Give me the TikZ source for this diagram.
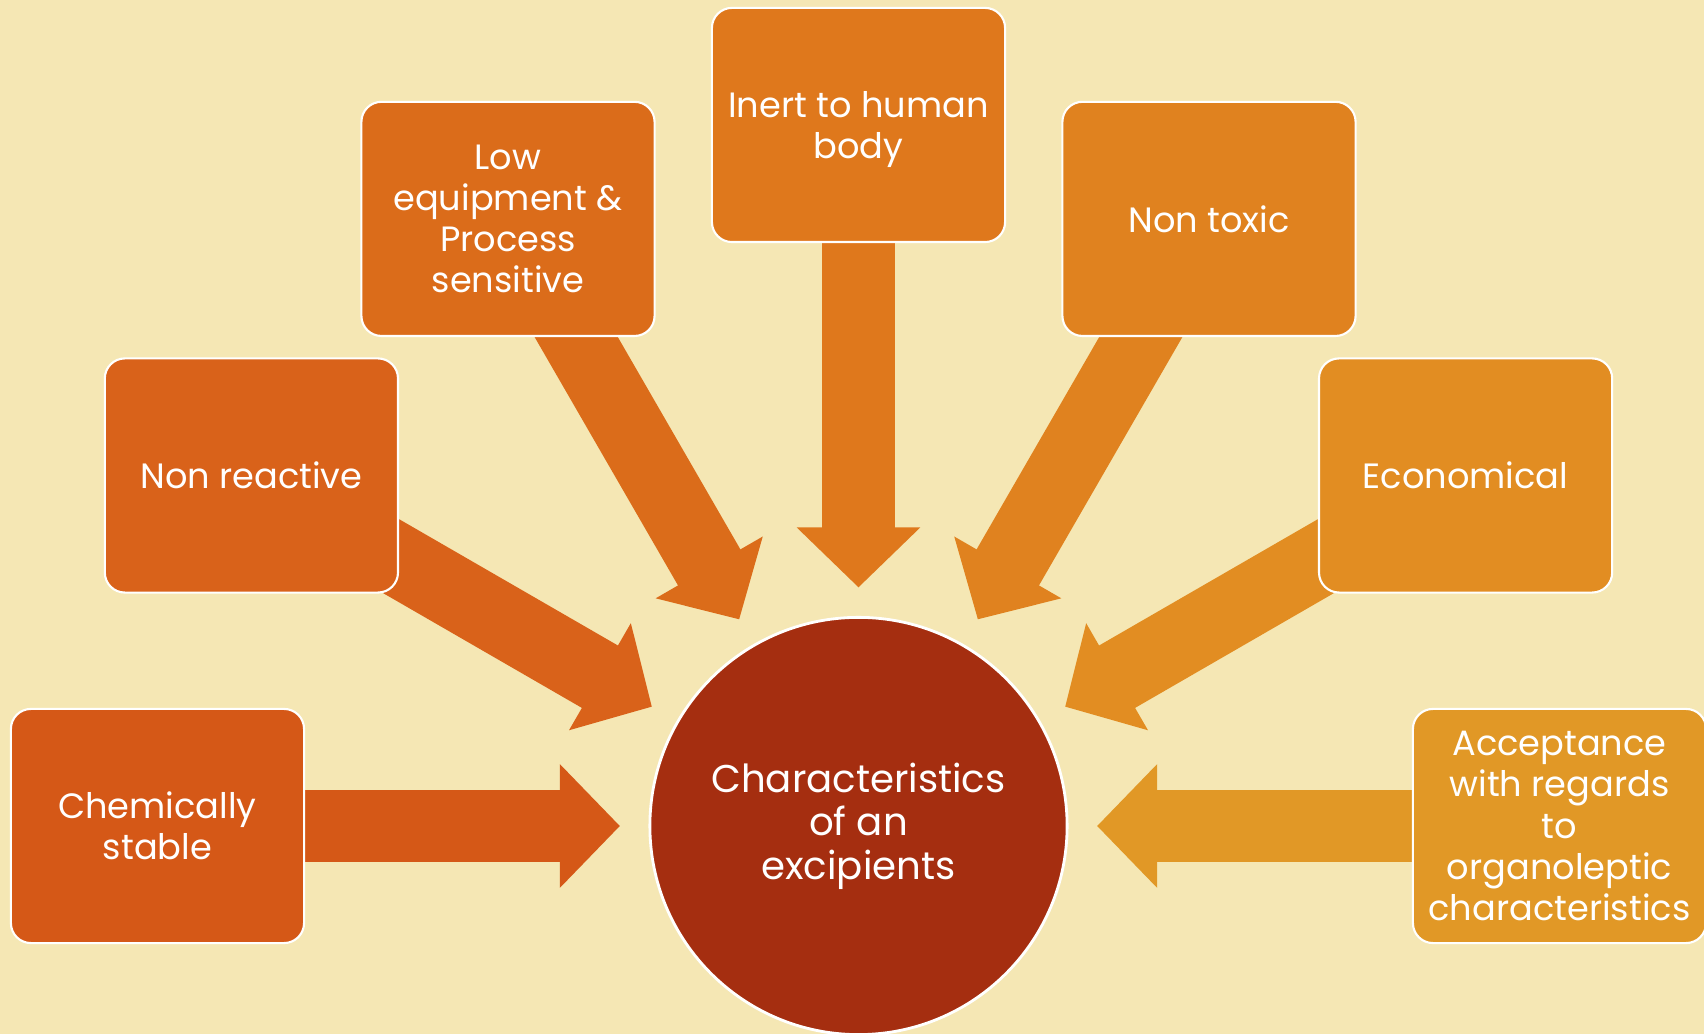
\documentclass[tikz,border=0pt]{standalone}
\usepackage{fontspec}
\setmainfont{Poppins}
\usetikzlibrary{arrows.meta}

\definecolor{bgcream}{HTML}{F5E7B4}
\definecolor{hubred}{HTML}{A52E10}
\definecolor{boxA}{HTML}{D55817}
\definecolor{boxB}{HTML}{D9621A}
\definecolor{boxC}{HTML}{DB6C1A}
\definecolor{boxD}{HTML}{DF781C}
\definecolor{boxE}{HTML}{E0821F}
\definecolor{boxF}{HTML}{E28D22}
\definecolor{boxG}{HTML}{E19826}

\tikzset{
  trait/.style={rounded corners=0.2cm, draw=white, line width=0.6pt,
    minimum width=2.93cm, minimum height=2.34cm, inner sep=2pt,
    text=white, align=center, font=\fontsize{10}{11.7}\selectfont},
  hub/.style={circle, fill=hubred, draw=white, line width=0.8pt,
    minimum size=4.17cm, inner sep=0pt,
    text=white, align=center, font=\fontsize{11}{12.4}\selectfont},
  conn/.style={line width=0.72cm, shorten >=0.285cm,
    -{Triangle[length=0.6cm, width=1.2cm]}}
}

\begin{document}
\begin{tikzpicture}[x=0.01cm, y=0.01cm]
\useasboundingbox (-858.5,-208) rectangle (845.5,826);
\fill[bgcream] (-858.5,-208) rectangle (845.5,826);

\node[hub] (hub) at (0,0) {Characteristics\\of an\\excipients};

% anchor points of the seven boxes round the hub
\coordinate (pstable)   at (180:701);
\coordinate (preactive) at (150:701);
\coordinate (pequip)    at (120:701);
\coordinate (pinert)    at (90:701);
\coordinate (ptoxic)    at (60:701);
\coordinate (pecon)     at (30:701);
\coordinate (paccept)   at (0:701);

% arrows first, boxes drawn over their tails
\draw[conn, draw=boxA] (pstable)   -- (hub);
\draw[conn, draw=boxB] (preactive) -- (hub);
\draw[conn, draw=boxC] (pequip)    -- (hub);
\draw[conn, draw=boxD] (pinert)    -- (hub);
\draw[conn, draw=boxE] (ptoxic)    -- (hub);
\draw[conn, draw=boxF] (pecon)     -- (hub);
\draw[conn, draw=boxG] (paccept)   -- (hub);

\node[trait, fill=boxA] (stable)   at (pstable)   {Chemically\\stable};
\node[trait, fill=boxB] (reactive) at (preactive) {Non reactive};
\node[trait, fill=boxC] (equip)    at (pequip)    {Low\\equipment \&\\Process\\sensitive};
\node[trait, fill=boxD, text depth=0pt] (inert) at (pinert) {Inert to human\\body};
\node[trait, fill=boxE] (toxic)    at (ptoxic)    {Non toxic};
\node[trait, fill=boxF] (econ)     at (pecon)     {Economical};
\node[trait, fill=boxG] (accept)   at (paccept)   {Acceptance\\with regards\\to\\organoleptic\\characteristics};
\end{tikzpicture}
\end{document}
